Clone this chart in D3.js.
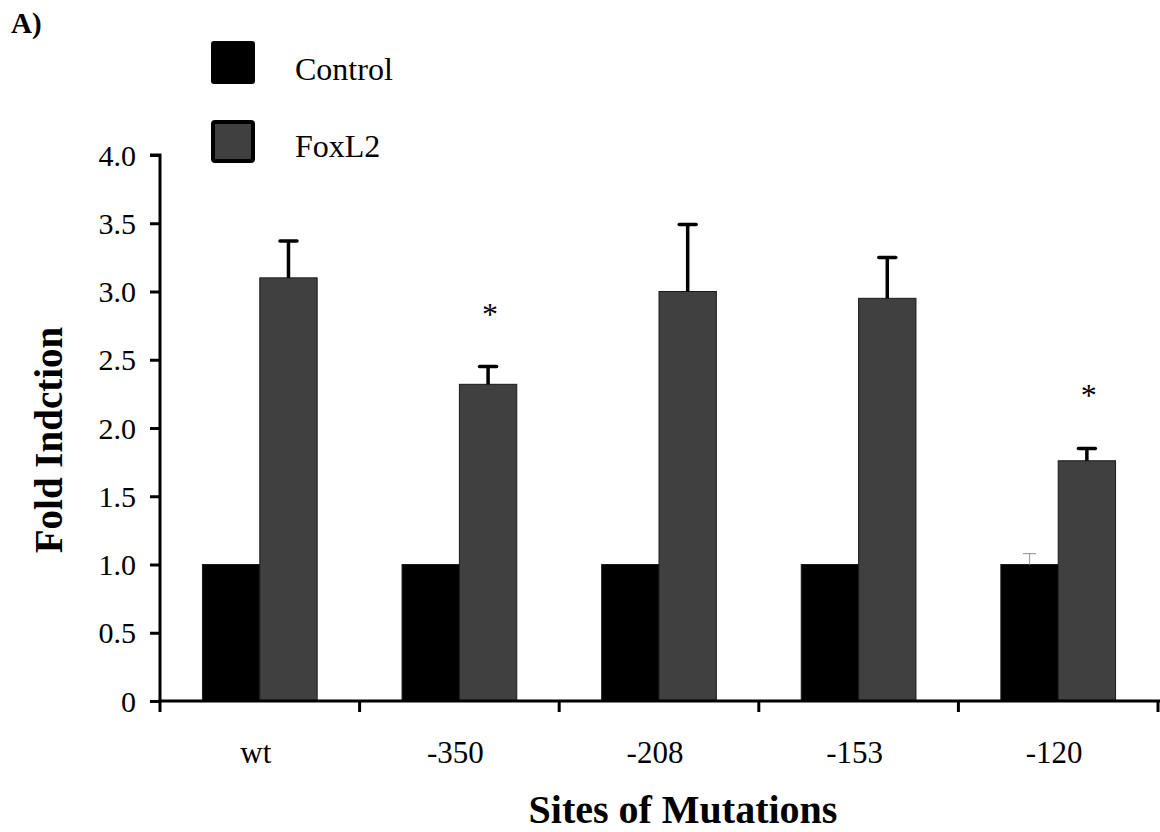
<!DOCTYPE html>
<html>
<head>
<meta charset="utf-8">
<script src="https://cdn.jsdelivr.net/npm/d3@7"></script>
<style>
  html, body { margin: 0; padding: 0; background: #fff; }
  svg text { font-family: "Liberation Serif", "Times New Roman", Times, "DejaVu Serif", serif !important; fill: #000; }
</style>
</head>
<body>
<svg id="chart" width="1160" height="832"></svg>
<script>
// ---- data ----
const categories = ["wt", "-350", "-208", "-153", "-120"];
const seriesNames = ["Control", "FoxL2"];
const controlValues = [1.0, 1.0, 1.0, 1.0, 1.0];
const controlErrors = [0, 0, 0, 0, 0.08];
const foxl2Values = [3.10, 2.32, 3.00, 2.95, 1.76];
const foxl2Errors = [0.27, 0.13, 0.49, 0.30, 0.09];
const significant = [false, true, false, false, true];
const yTicks = [0, 0.5, 1.0, 1.5, 2.0, 2.5, 3.0, 3.5, 4.0];
const yTickLabels = ["0", "0.5", "1.0", "1.5", "2.0", "2.5", "3.0", "3.5", "4.0"];

const colors = { "Control": "#000000", "FoxL2": "#404040" };
const FONT = "'Liberation Serif', 'Times New Roman', Times, 'DejaVu Serif', serif";

const svg = d3.select("#chart");

const x0 = d3.scaleBand().domain(categories).range([160, 1158]).paddingInner(0).paddingOuter(0);
const x1 = d3.scaleBand().domain(seriesNames).range([0, x0.bandwidth()]).paddingInner(0).paddingOuter(0.74);
const y = d3.scaleLinear().domain([0, 4]).range([701, 155]);

const rows = categories.map((c, i) => ({
  cat: c,
  bars: [
    { s: "Control", v: controlValues[i], e: controlErrors[i] },
    { s: "FoxL2", v: foxl2Values[i], e: foxl2Errors[i] }
  ],
  sig: significant[i]
}));

// "A)" panel label
svg.append("text").attr("x", 11).attr("y", 33).attr("font-family", FONT)
  .attr("font-size", 29).attr("font-weight", "bold").text("A)");

// legend
const legend = svg.append("g");
legend.append("rect").attr("x", 211).attr("y", 41).attr("width", 44).attr("height", 43)
  .attr("rx", 3).attr("fill", colors.Control);
legend.append("rect").attr("x", 213).attr("y", 122).attr("width", 40).attr("height", 39)
  .attr("rx", 2).attr("fill", colors.FoxL2).attr("stroke", "#000").attr("stroke-width", 4);
legend.append("text").attr("x", 295).attr("y", 80).attr("font-family", FONT).attr("font-size", 32).text("Control");
legend.append("text").attr("x", 295).attr("y", 157).attr("font-family", FONT).attr("font-size", 32).text("FoxL2");

// bars
const groups = svg.append("g").selectAll("g").data(rows).join("g")
  .attr("transform", d => `translate(${x0(d.cat)},0)`);

groups.selectAll("rect").data(d => d.bars).join("rect")
  .attr("x", d => x1(d.s))
  .attr("y", d => y(d.v))
  .attr("width", x1.bandwidth())
  .attr("height", d => y(0) - y(d.v))
  .attr("fill", d => colors[d.s])
  .attr("stroke", "#1a1a1a")
  .attr("stroke-width", 1);

// error bars
groups.each(function(d) {
  const g = d3.select(this);
  d.bars.forEach(b => {
    if (b.e <= 0) return;
    const cx = x1(b.s) + x1.bandwidth() / 2;
    const thin = b.s === "Control";
    const col = thin ? "#a0a0a0" : "#000";
    const sw = thin ? 1.2 : 3.5;
    g.append("line").attr("x1", cx).attr("x2", cx)
      .attr("y1", y(b.v)).attr("y2", y(b.v + b.e))
      .attr("stroke", col).attr("stroke-width", sw);
    g.append("line").attr("x1", cx - (thin ? 6.5 : 8.5)).attr("x2", cx + (thin ? 6.5 : 8.5))
      .attr("y1", y(b.v + b.e)).attr("y2", y(b.v + b.e))
      .attr("stroke", col).attr("stroke-width", sw).attr("stroke-linecap", thin ? "butt" : "round");
  });
  if (d.sig) {
    const b = d.bars[1];
    const cx = x1(b.s) + x1.bandwidth() / 2 + 2;
    g.append("text").attr("x", cx).attr("y", y(b.v + b.e) - 42).attr("font-family", FONT)
      .attr("text-anchor", "middle").attr("font-size", 32).text("*");
  }
});

// y axis
const yAxis = d3.axisLeft(y).tickValues(yTicks)
  .tickFormat((d, i) => yTickLabels[i]).tickSize(10).tickPadding(14);
const gy = svg.append("g").attr("transform", "translate(160,0)").call(yAxis)
  .attr("font-family", FONT);
gy.select(".domain").attr("d", `M-10,${y(4)}H0V${y(0) + 1.5}`)
  .attr("stroke", "#000").attr("stroke-width", 3).attr("fill", "none");
gy.selectAll(".tick line").attr("stroke", "#000").attr("stroke-width", 3);
gy.selectAll(".tick text").attr("font-size", 30).attr("font-family", FONT)
  .attr("fill", "#000").attr("dy", "0.34em");

// x axis
const xTickPositions = categories.map(c => x0(c)).concat([x0.range()[1]]);
const gx = svg.append("g").attr("transform", `translate(0,${y(0)})`);
gx.append("line").attr("x1", 158.5).attr("x2", 1160).attr("y1", 0).attr("y2", 0)
  .attr("stroke", "#000").attr("stroke-width", 3);
gx.selectAll("line.tk").data(xTickPositions).join("line").attr("class", "tk")
  .attr("x1", d => d).attr("x2", d => d).attr("y1", 0).attr("y2", 11)
  .attr("stroke", "#000").attr("stroke-width", 3);
gx.selectAll("text.cl").data(categories).join("text").attr("class", "cl")
  .attr("x", d => x0(d) + x0.bandwidth() / 2 - 4)
  .attr("y", 763 - y(0)).attr("font-family", FONT)
  .attr("text-anchor", "middle").attr("font-size", 31).text(d => d);

// axis titles
svg.append("text").attr("transform", "translate(62,440) rotate(-90)").attr("font-family", FONT)
  .attr("text-anchor", "middle").attr("font-size", 39).attr("font-weight", "bold")
  .text("Fold Indction");
svg.append("text").attr("x", 683).attr("y", 823).attr("font-family", FONT)
  .attr("text-anchor", "middle").attr("font-size", 40).attr("font-weight", "bold")
  .text("Sites of Mutations");
</script>
</body>
</html>
